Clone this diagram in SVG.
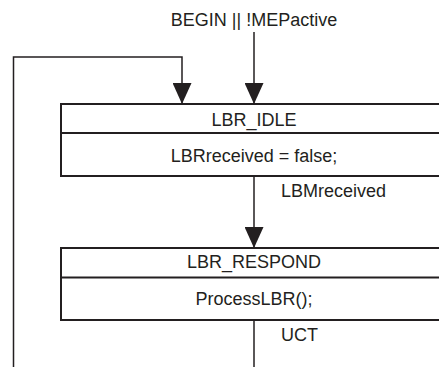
<svg xmlns="http://www.w3.org/2000/svg" width="439" height="367" viewBox="0 0 439 367">
<defs>
<style>
text{font-family:"Liberation Sans",Arial,sans-serif;font-size:18px;fill:#231f20}
.c{text-anchor:middle}
.box{fill:#fff;stroke:#231f20;stroke-width:2}
.ln{fill:none;stroke:#231f20;stroke-width:1.5}
</style>
<marker id="ah" markerUnits="userSpaceOnUse" markerWidth="22" markerHeight="19" refX="21" refY="9.5" orient="auto">
<path d="M0,0 L21,9.5 L0,19 Z" fill="#231f20"/>
</marker>
</defs>
<rect width="439" height="367" fill="#fff"/>
<g id="LBR_IDLE">
<rect class="box" x="61" y="104" width="390" height="72"/>
<line class="box" x1="61" y1="133" x2="451" y2="133"/>
<text class="c" x="254" y="126">LBR_IDLE</text>
<text class="c" x="254" y="162">LBRreceived = false;</text>
</g>
<g id="LBR_RESPOND">
<rect class="box" x="61" y="248" width="390" height="72"/>
<line class="box" x1="61" y1="277.5" x2="451" y2="277.5"/>
<text class="c" x="254" y="268">LBR_RESPOND</text>
<text class="c" x="254" y="305">ProcessLBR();</text>
</g>
<g id="connectors">
<text class="c" x="254" y="26">BEGIN || !MEPactive</text>
<line class="ln" x1="254" y1="32" x2="254" y2="104" marker-end="url(#ah)"/>
<polyline class="ln" points="13.5,367 13.5,57 182,57 182,104" marker-end="url(#ah)"/>
<line class="ln" x1="254" y1="176" x2="254" y2="248" marker-end="url(#ah)"/>
<text x="281" y="197">LBMreceived</text>
<line class="ln" x1="254" y1="320" x2="254" y2="367"/>
<text x="281" y="341">UCT</text>
</g>
</svg>
